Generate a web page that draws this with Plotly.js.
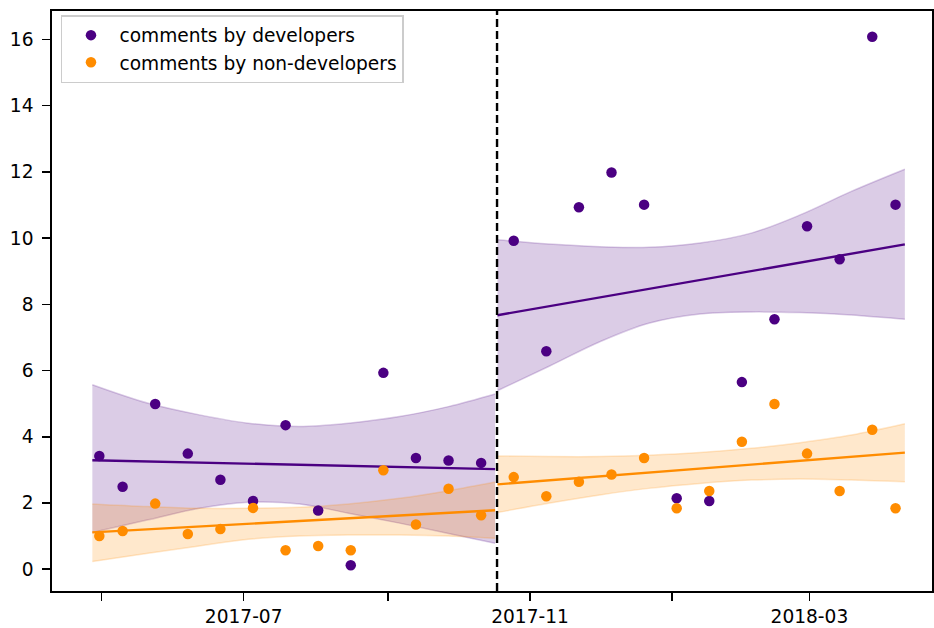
<!DOCTYPE html>
<html>
<head>
<meta charset="utf-8">
<script src="https://cdn.plot.ly/plotly-3.0.1.min.js"></script>
<style>
html,body{margin:0;padding:0;background:#fff;}
#chart{width:934px;height:628px;}
</style>
</head>
<body>
<div id="chart"></div>
<script>
// ---- data ----
const dates = ['2017-04-30','2017-05-10','2017-05-24','2017-06-07','2017-06-21','2017-07-05','2017-07-19',
  '2017-08-02','2017-08-16','2017-08-30','2017-09-13','2017-09-27','2017-10-11','2017-10-25','2017-11-08',
  '2017-11-22','2017-12-06','2017-12-20','2018-01-03','2018-01-17','2018-01-31','2018-02-14','2018-02-28',
  '2018-03-14','2018-03-28','2018-04-07'];
const devComments = [3.42,2.49,4.99,3.49,2.70,2.06,4.35,1.77,0.12,5.93,3.36,3.28,3.21,
  9.92,6.58,10.93,11.98,11.01,2.14,2.06,5.65,7.55,10.36,9.36,16.08,11.01];
const nonDevComments = [1.00,1.15,1.98,1.06,1.21,1.85,0.57,0.70,0.57,2.99,1.35,2.43,1.63,
  2.78,2.20,2.64,2.86,3.36,1.84,2.36,3.85,4.99,3.49,2.36,4.21,1.84];

// regression fits (start / end of each period)
const fitDates1 = ['2017-04-27','2017-10-17'];
const devFit1 = [3.29, 3.02];
const nonDevFit1 = [1.11, 1.78];
const fitDates2 = ['2017-10-18','2018-04-11'];
const devFit2 = [7.67, 9.81];
const nonDevFit2 = [2.56, 3.52];

// confidence bands
const bandDates1 = ['2017-04-27','2017-05-21','2017-06-12','2017-07-03','2017-07-25','2017-08-15','2017-09-06','2017-09-27','2017-10-17'];
const devUpper1 = [5.57,5.01,4.66,4.41,4.31,4.41,4.61,4.91,5.29];
const devLower1 = [1.11,1.49,1.84,2.02,1.97,1.69,1.39,1.08,0.78];
const nonDevUpper1 = [1.97,1.89,1.84,1.84,1.87,1.97,2.14,2.37,2.63];
const nonDevLower1 = [0.23,0.48,0.70,0.90,1.00,1.03,1.03,1.00,0.93];
const bandDates2 = ['2017-10-18','2017-11-09','2017-12-01','2017-12-22','2018-01-13','2018-02-04','2018-02-25','2018-03-19','2018-04-11'];
const devUpper2 = [9.95,9.82,9.74,9.72,9.85,10.15,10.70,11.41,12.08];
const devLower2 = [5.39,6.12,6.87,7.43,7.71,7.77,7.75,7.68,7.55];
const nonDevUpper2 = [3.42,3.40,3.40,3.44,3.52,3.65,3.82,4.05,4.39];
const nonDevLower2 = [1.71,1.99,2.24,2.44,2.59,2.69,2.72,2.69,2.64];

const breakDate = '2017-10-17 20:00';
const xTickVals = ['2017-05-01','2017-07-01','2017-09-01','2017-11-01','2018-01-01','2018-03-01'];
const xTickText = ['','2017-07','','2017-11','','2018-03'];
const yTickVals = [0,2,4,6,8,10,12,14,16];

// ---- styles ----
const PURPLE = '#4B0082';
const ORANGE = '#FF8C00';
const PURPLE_FILL = 'rgba(75,0,130,0.2)';
const ORANGE_FILL = 'rgba(255,140,0,0.2)';
const FONT = 'DejaVu Sans, sans-serif';
const FS = 18.6;

function band(x, lower, upper, fill) {
  return [
    {x: x, y: lower, type: 'scatter', mode: 'lines', showlegend: false, hoverinfo: 'skip',
     line: {color: fill, width: 1.5, shape: 'spline', smoothing: 1}},
    {x: x, y: upper, type: 'scatter', mode: 'lines', showlegend: false, hoverinfo: 'skip',
     fill: 'tonexty', fillcolor: fill,
     line: {color: fill, width: 1.5, shape: 'spline', smoothing: 1}}
  ];
}
function fitLine(x, y, color) {
  return {x: x, y: y, type: 'scatter', mode: 'lines', showlegend: false, hoverinfo: 'skip',
          line: {color: color, width: 2.4}};
}

const traces = [].concat(
  band(bandDates1, devLower1, devUpper1, PURPLE_FILL),
  band(bandDates1, nonDevLower1, nonDevUpper1, ORANGE_FILL),
  band(bandDates2, devLower2, devUpper2, PURPLE_FILL),
  band(bandDates2, nonDevLower2, nonDevUpper2, ORANGE_FILL),
  [
    fitLine(fitDates1, devFit1, PURPLE),
    fitLine(fitDates1, nonDevFit1, ORANGE),
    fitLine(fitDates2, devFit2, PURPLE),
    fitLine(fitDates2, nonDevFit2, ORANGE),
    {x: dates, y: devComments, type: 'scatter', mode: 'markers', name: 'comments by developers',
     marker: {color: PURPLE, size: 10.5}},
    {x: dates, y: nonDevComments, type: 'scatter', mode: 'markers', name: 'comments by non-developers',
     marker: {color: ORANGE, size: 10.5}}
  ]
);

const layout = {
  width: 934, height: 628,
  margin: {l: 52, r: 2, t: 11, b: 37, pad: 0},
  paper_bgcolor: '#fff', plot_bgcolor: '#fff',
  font: {family: FONT, size: FS, color: '#000'},
  showlegend: true,
  legend: {
    x: 0.0102, y: 0.993, xanchor: 'left', yanchor: 'top',
    traceorder: 'normal',
    bgcolor: 'rgba(255,255,255,0.8)', bordercolor: '#cccccc', borderwidth: 1.5,
    font: {family: FONT, size: FS, color: '#000'},
    itemwidth: 47, tracegroupgap: 0
  },
  xaxis: {
    type: 'date',
    range: ['2017-04-09 16:00', '2018-04-22 16:00'],
    tickmode: 'array', tickvals: xTickVals, ticktext: xTickText,
    ticks: 'outside', ticklen: 8, tickwidth: 1.6, tickcolor: '#000',
    showline: true, linecolor: '#000', linewidth: 1.8, mirror: true,
    showgrid: false, zeroline: false, ticklabelstandoff: 0,
    tickfont: {family: FONT, size: FS, color: '#000'}
  },
  yaxis: {
    range: [-0.66, 16.86],
    tickmode: 'array', tickvals: yTickVals,
    ticks: 'outside', ticklen: 8, tickwidth: 1.6, tickcolor: '#000',
    showline: true, linecolor: '#000', linewidth: 1.8, mirror: true,
    showgrid: false, zeroline: false, ticklabelstandoff: 5,
    tickfont: {family: FONT, size: FS, color: '#000'}
  },
  shapes: [{
    type: 'line', xref: 'x', yref: 'paper', x0: breakDate, x1: breakDate, y0: 0, y1: 1,
    line: {color: '#000', width: 2.4, dash: '8px,4px'}, layer: 'above'
  }]
};

Plotly.newPlot('chart', traces, layout, {displayModeBar: false, staticPlot: true});
</script>
</body>
</html>
